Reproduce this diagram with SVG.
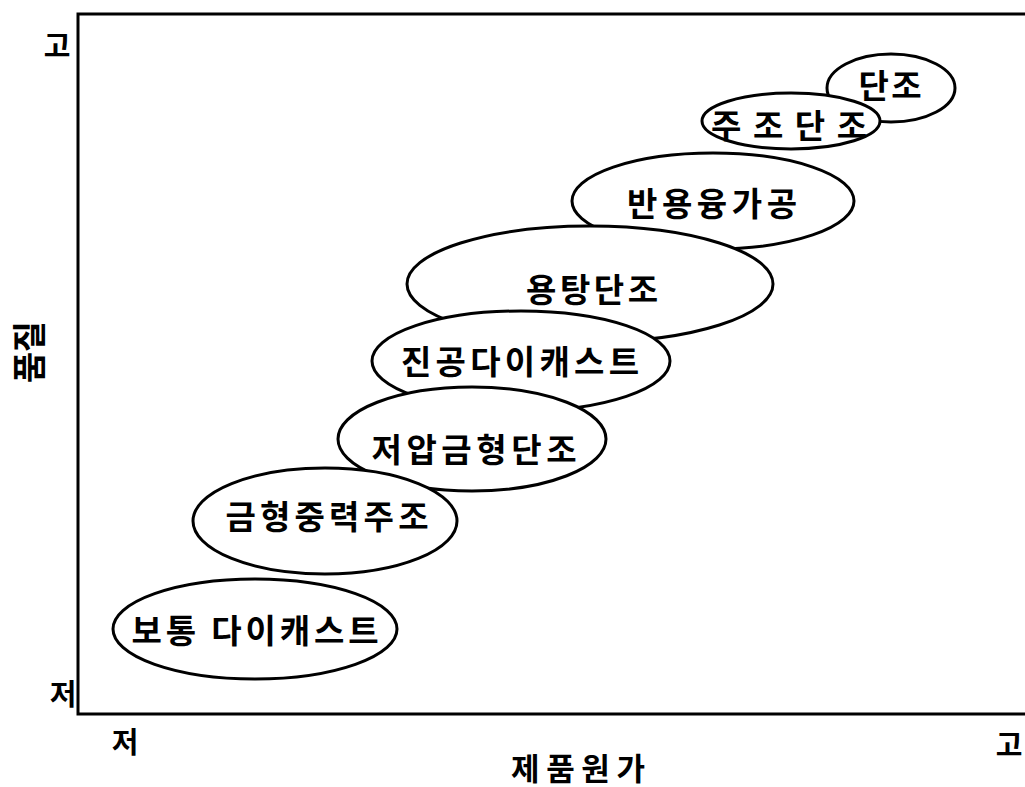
<svg xmlns="http://www.w3.org/2000/svg" width="1025" height="787" viewBox="0 0 1025 787">
<style>
.ax{fill:none;stroke:#000;stroke-width:3}
.el{fill:#fff;stroke:#000;stroke-width:3}
.t{font-family:"Noto Sans CJK KR","Noto Sans CJK SC",sans-serif;font-weight:bold;font-size:33px;fill:#000;text-anchor:middle;dominant-baseline:central}
.a{font-family:"Noto Sans CJK KR","Noto Sans CJK SC",sans-serif;font-weight:bold;font-size:29px;fill:#000;text-anchor:middle;dominant-baseline:central}
</style>
<rect width="1025" height="787" fill="#fff"/>
<g id="axes">
<polyline class="ax" points="1026,14 78,14 78,714 1026,714"/>
<text class="a" x="57" y="44">고</text>
<text class="a" x="63" y="692">저</text>
<text class="a" x="125" y="740">저</text>
<text class="a" x="1009" y="743">고</text>
<text class="a" x="578" y="766" style="font-size:31px" textLength="134" lengthAdjust="spacing">제품원가</text>
<text class="a" transform="translate(27,352) rotate(-90)" x="0" y="0" style="font-size:34px" textLength="62" lengthAdjust="spacing">품질</text>
</g>
<g id="connectors"></g>
<g id="n-danjo"><ellipse class="el" cx="891" cy="88" rx="64" ry="34"/></g>
<g id="n-jujodanjo"><ellipse class="el" cx="791" cy="121" rx="89" ry="28"/></g>
<g id="n-banyongyung"><ellipse class="el" cx="713" cy="201" rx="141" ry="48"/></g>
<g id="n-yongtang"><ellipse class="el" cx="590" cy="284" rx="183" ry="58"/></g>
<g id="n-jingong"><ellipse class="el" cx="521" cy="361" rx="149" ry="50"/></g>
<g id="n-jeoap"><ellipse class="el" cx="472" cy="439" rx="134" ry="52"/></g>
<g id="n-geumhyeong"><ellipse class="el" cx="325" cy="521" rx="132" ry="53"/></g>
<g id="n-botong"><ellipse class="el" cx="255" cy="629" rx="142" ry="50"/></g>
<g id="labels">
<text class="t" x="890" y="84" textLength="63" lengthAdjust="spacing">단조</text>
<text class="t" x="789" y="124" textLength="156" lengthAdjust="spacing">주조단조</text>
<text class="t" x="712" y="202" textLength="170" lengthAdjust="spacing">반용융가공</text>
<text class="t" x="592" y="288" textLength="132" lengthAdjust="spacing">용탕단조</text>
<text class="t" x="520" y="360" textLength="238" lengthAdjust="spacing">진공다이캐스트</text>
<text class="t" x="474" y="448" textLength="205" lengthAdjust="spacing">저압금형단조</text>
<text class="t" x="327" y="515" textLength="203" lengthAdjust="spacing">금형중력주조</text>
<text class="t" x="255" y="629" textLength="247" lengthAdjust="spacing">보통 다이캐스트</text>
</g>
</svg>
